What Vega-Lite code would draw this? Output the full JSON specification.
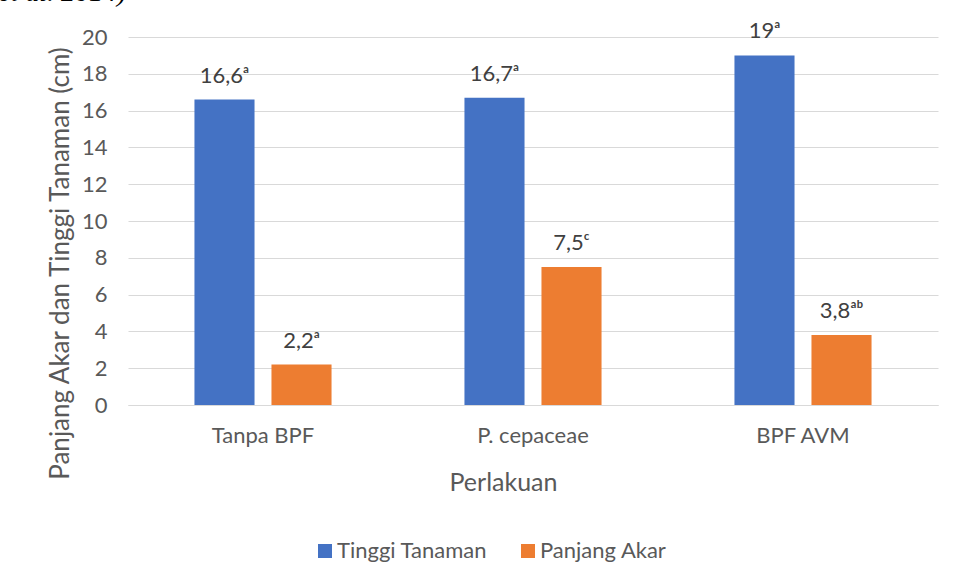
{
  "$schema": "https://vega.github.io/schema/vega-lite/v6.json",
  "width": 810,
  "height": 368,
  "autosize": {"type": "none"},
  "padding": {"left": 128, "top": 37, "right": 17, "bottom": 175},
  "background": "white",
  "title": {
    "text": "et al. 2014)",
    "font": "Liberation Serif",
    "fontStyle": "italic",
    "fontWeight": "normal",
    "fontSize": 28,
    "color": "black",
    "anchor": "start",
    "frame": "group",
    "orient": "top",
    "offset": 0,
    "dx": -130,
    "dy": -13
  },
  "config": {
    "font": "Lato",
    "view": {"stroke": null}
  },
  "data": {
    "values": [
      {"perlakuan": "Tanpa BPF", "seri": "Tinggi Tanaman", "nilai": 16.6, "label": "16,6ᵃ"},
      {"perlakuan": "Tanpa BPF", "seri": "Panjang Akar", "nilai": 2.2, "label": "2,2ᵃ"},
      {"perlakuan": "P. cepaceae", "seri": "Tinggi Tanaman", "nilai": 16.7, "label": "16,7ᵃ"},
      {"perlakuan": "P. cepaceae", "seri": "Panjang Akar", "nilai": 7.5, "label": "7,5ᶜ"},
      {"perlakuan": "BPF AVM", "seri": "Tinggi Tanaman", "nilai": 19, "label": "19ᵃ"},
      {"perlakuan": "BPF AVM", "seri": "Panjang Akar", "nilai": 3.8, "label": "3,8ᵃᵇ"}
    ]
  },
  "encoding": {
    "x": {
      "field": "perlakuan",
      "type": "nominal",
      "sort": ["Tanpa BPF", "P. cepaceae", "BPF AVM"],
      "scale": {"paddingInner": 0, "paddingOuter": 0},
      "axis": {
        "title": "Perlakuan",
        "labelAngle": 0,
        "labelFontSize": 22,
        "labelColor": "#595959",
        "labelPadding": 20,
        "ticks": false,
        "domainColor": "#d9d9d9",
        "domainWidth": 1,
        "titleFontSize": 25,
        "titleFontWeight": "normal",
        "titleColor": "#595959",
        "titlePadding": 24,
        "titleX": 375
      }
    },
    "xOffset": {
      "field": "seri",
      "type": "nominal",
      "sort": ["Tinggi Tanaman", "Panjang Akar"],
      "scale": {"paddingInner": 0.22, "paddingOuter": 0.863}
    },
    "y": {
      "field": "nilai",
      "type": "quantitative",
      "scale": {"domain": [0, 20], "nice": false},
      "axis": {
        "title": "Panjang Akar dan Tinggi Tanaman (cm)",
        "values": [0, 2, 4, 6, 8, 10, 12, 14, 16, 18, 20],
        "format": "d",
        "labelFontSize": 22,
        "labelColor": "#595959",
        "labelPadding": 21,
        "ticks": false,
        "domain": false,
        "gridColor": "#d9d9d9",
        "gridWidth": 1,
        "titleFontSize": 26,
        "titleFontWeight": "normal",
        "titleColor": "#595959",
        "titlePadding": 8,
        "titleY": 226
      }
    }
  },
  "layer": [
    {
      "mark": {"type": "bar"},
      "encoding": {
        "color": {
          "field": "seri",
          "type": "nominal",
          "scale": {"domain": ["Tinggi Tanaman", "Panjang Akar"], "range": ["#4472C4", "#ED7D31"]},
          "legend": {
            "title": null,
            "orient": "none",
            "direction": "horizontal",
            "legendX": 186,
            "legendY": 503,
            "symbolType": "square",
            "symbolSize": 196,
            "symbolStrokeWidth": 0,
            "labelFontSize": 22,
            "labelColor": "#595959",
            "labelOffset": 1,
            "columnPadding": 29
          }
        }
      }
    },
    {
      "mark": {"type": "text", "dy": -17, "baseline": "alphabetic", "fontSize": 22, "color": "#404040"},
      "encoding": {"text": {"field": "label"}}
    }
  ]
}
